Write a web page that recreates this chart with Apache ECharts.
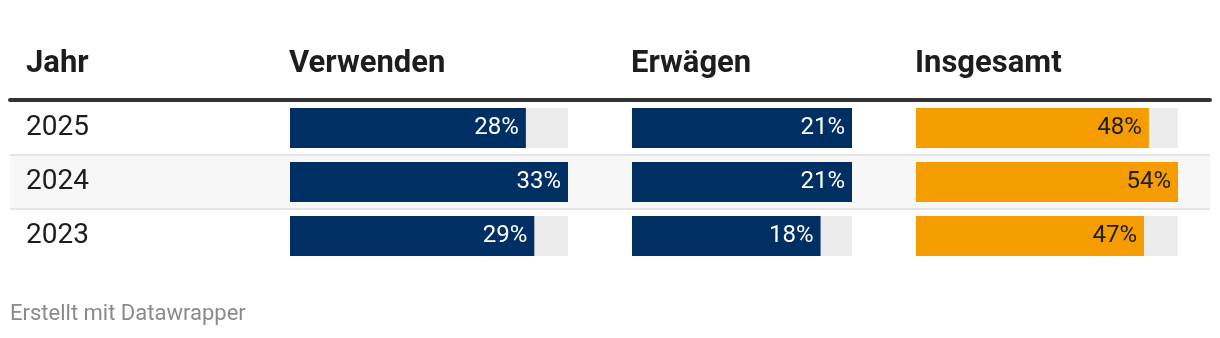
<!DOCTYPE html>
<html>
<head>
<meta charset="utf-8">
<script src="https://cdn.jsdelivr.net/npm/echarts@6/dist/echarts.min.js"></script>
<style>
html,body{margin:0;padding:0;background:#fff;}
#chart{width:1220px;height:338px;}
</style>
</head>
<body>
<div id="chart"></div>
<script>
const years = ['2025', '2024', '2023'];
const headers = ['Jahr', 'Verwenden', 'Erwägen', 'Insgesamt'];
const verwenden = [28, 33, 29];
const erwaegen = [21, 21, 18];
const insgesamt = [48, 54, 47];
const footer = 'Erstellt mit Datawrapper';

const FONT = 'Roboto';
const TOP = 101, ROWH = 54, H = ROWH * years.length;

const cols = [
  { name: headers[1], data: verwenden, left: 290, width: 278, color: '#003063', label: '#ffffff' },
  { name: headers[2], data: erwaegen, left: 632, width: 220, color: '#003063', label: '#ffffff' },
  { name: headers[3], data: insgesamt, left: 916, width: 262, color: '#f59c00', label: '#1d1d1d' }
];

const grid = [{ left: 10, right: 10, top: TOP, height: H }];
const xAxis = [{
  gridIndex: 0, type: 'value', position: 'top', min: 0, max: 1, offset: 1,
  axisLine: { show: true, onZero: false, lineStyle: { color: '#333333', width: 4 } },
  axisTick: { show: false }, axisLabel: { show: false }, splitLine: { show: false }
}];
const yAxis = [{
  gridIndex: 0, type: 'category', data: years, inverse: true,
  axisLine: { show: false }, axisTick: { show: false },
  axisLabel: { inside: true, margin: 16, color: '#1d1d1d', fontFamily: FONT, fontSize: 28, align: 'left', padding: [4, 0, 0, 0] },
  splitLine: { show: true, showMinLine: false, showMaxLine: false, lineStyle: { color: '#e5e5e5', width: 2 } },
  splitArea: { show: true, areaStyle: { color: ['#ffffff', '#f7f7f7'] } }
}];
const series = [];
const title = [];
const headStyle = { fontFamily: FONT, fontSize: 31, fontWeight: 'bold', color: '#1d1d1d' };

title.push({ text: headers[0], left: 26, top: 49, padding: 0, textStyle: headStyle });

cols.forEach((c, i) => {
  const gi = i + 1;
  grid.push({ left: c.left, width: c.width, top: TOP, height: H });
  xAxis.push({ gridIndex: gi, type: 'value', min: 0, max: Math.max(...c.data), show: false });
  yAxis.push({ gridIndex: gi, type: 'category', data: years, inverse: true, show: false });
  series.push({
    type: 'bar', xAxisIndex: gi, yAxisIndex: gi, data: c.data, barWidth: 40,
    itemStyle: { color: c.color },
    showBackground: true, backgroundStyle: { color: '#ececec' },
    label: { show: true, position: 'insideRight', distance: 7, formatter: '{c}%', color: c.label, fontFamily: FONT, fontSize: 24, padding: [2, 0, 0, 0] },
    silent: true, animation: false
  });
  title.push({ text: c.name, left: c.left - 1, top: 49, padding: 0, textStyle: headStyle });
});

title.push({ text: footer, left: 10, top: 303, padding: 0, textStyle: { fontFamily: FONT, fontSize: 22, fontWeight: 'normal', color: '#8a8a8a' } });

const chart = echarts.init(document.getElementById('chart'), null, { renderer: 'canvas' });
chart.setOption({ animation: false, title, grid, xAxis, yAxis, series });
</script>
</body>
</html>
